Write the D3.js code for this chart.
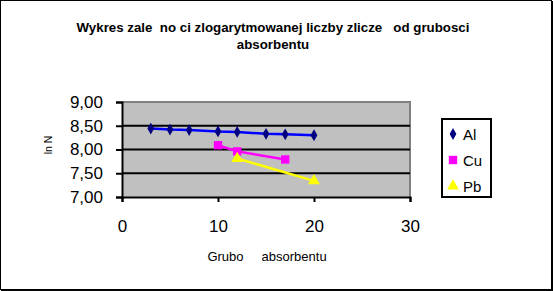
<!DOCTYPE html>
<html>
<head>
<meta charset="utf-8">
<script src="https://cdn.jsdelivr.net/npm/d3@7"></script>
<style>
body { margin: 0; background: #fff; }
text { font-family: "Liberation Sans", Arial, sans-serif; white-space: pre; }
</style>
</head>
<body>
<svg id="chart" width="553" height="291"></svg>
<script>
var xTicks = [0, 10, 20, 30];
var yTicks = [7.0, 7.5, 8.0, 8.5, 9.0];

var alX = [3, 5, 7, 10, 12, 15, 17, 20];
var alY = [8.44, 8.42, 8.41, 8.38, 8.37, 8.33, 8.32, 8.30];
var cuX = [10, 12, 17];
var cuY = [8.09, 7.96, 7.79];
var pbX = [12, 20];
var pbY = [7.81, 7.34];

var seriesNames = ["Al", "Cu", "Pb"];

var svg = d3.select("#chart");

// outer frame with shadow on right/bottom
svg.append("rect").attr("x", 0.5).attr("y", 0.5).attr("width", 551).attr("height", 289)
    .attr("fill", "#fff").attr("stroke", "#000").attr("stroke-width", 1);
svg.append("line").attr("x1", 552).attr("x2", 552).attr("y1", 1).attr("y2", 291)
    .attr("stroke", "#000").attr("stroke-width", 2);
svg.append("line").attr("x1", 1).attr("x2", 553).attr("y1", 290).attr("y2", 290)
    .attr("stroke", "#000").attr("stroke-width", 2);

var margin = { left: 122, top: 102, right: 410, bottom: 197 };

var x = d3.scaleLinear().domain([0, 30]).range([margin.left, margin.right]);
var y = d3.scaleLinear().domain([7, 9]).range([margin.bottom, margin.top]);

// title
svg.append("text").attr("x", 273).attr("y", 32).attr("text-anchor", "middle")
    .attr("font-size", 13.3).attr("font-weight", "bold")
    .text("Wykres zale  no ci zlogarytmowanej liczby zlicze   od grubosci");
svg.append("text").attr("x", 273).attr("y", 49).attr("text-anchor", "middle")
    .attr("font-size", 13.3).attr("font-weight", "bold")
    .text("absorbentu");

// plot area
svg.append("rect")
    .attr("x", x(0)).attr("y", y(9))
    .attr("width", x(30) - x(0)).attr("height", y(7) - y(9))
    .attr("fill", "#c0c0c0");

svg.append("path")
    .attr("d", "M" + x(0) + "," + y(9) + "H" + x(30) + "V" + y(7))
    .attr("fill", "none").attr("stroke", "#808080").attr("stroke-width", 2);

svg.selectAll(".grid")
    .data(yTicks.filter(function(d) { return d > 7 && d < 9; }))
    .enter().append("line")
    .attr("class", "grid")
    .attr("x1", x(0)).attr("x2", x(30))
    .attr("y1", function(d) { return y(d); })
    .attr("y2", function(d) { return y(d); })
    .attr("stroke", "#000").attr("stroke-width", 2);

// axes
var xAxis = svg.append("g")
    .attr("transform", "translate(0," + y(7) + ")")
    .call(d3.axisBottom(x).tickValues(xTicks).tickSize(5).tickPadding(18)
        .tickFormat(d3.format("d")));
xAxis.select(".domain").attr("stroke-width", 2);
xAxis.selectAll(".tick line").attr("stroke-width", 2);
xAxis.selectAll("text").attr("font-size", 17).attr("font-family", "Liberation Sans, Arial, sans-serif");

var yAxis = svg.append("g")
    .attr("transform", "translate(" + x(0) + ",0)")
    .call(d3.axisLeft(y).tickValues(yTicks).tickSize(6).tickPadding(13)
        .tickFormat(function(d) { return d3.format(".2f")(d).replace(".", ","); }));
yAxis.select(".domain").attr("stroke-width", 2);
yAxis.selectAll(".tick line").attr("stroke-width", 2);
yAxis.selectAll("text").attr("font-size", 17).attr("font-family", "Liberation Sans, Arial, sans-serif");

svg.append("text").attr("x", 267).attr("y", 261).attr("text-anchor", "middle")
    .attr("font-size", 13)
    .text("Grubo     absorbentu");

svg.append("text")
    .attr("transform", "translate(52,145) rotate(-90)")
    .attr("text-anchor", "middle").attr("font-size", 10.5)
    .text("ln N");

// series
var series = [
    { name: seriesNames[0], xs: alX, ys: alY, line: "#0000ff", marker: "#000080", shape: d3.symbolDiamond, size: 40 },
    { name: seriesNames[1], xs: cuX, ys: cuY, line: "#ff00ff", marker: "#ff00ff", shape: d3.symbolSquare, size: 70 },
    { name: seriesNames[2], xs: pbX, ys: pbY, line: "#ffff00", marker: "#ffff00", shape: d3.symbolTriangle, size: 60 }
];

var line = d3.line()
    .x(function(d) { return x(d[0]); })
    .y(function(d) { return y(d[1]); });

series.forEach(function(s) {
    var pts = s.xs.map(function(v, i) { return [v, s.ys[i]]; });
    svg.append("path").datum(pts)
        .attr("d", line)
        .attr("fill", "none").attr("stroke", s.line).attr("stroke-width", 2.5);
    svg.selectAll(null).data(pts).enter().append("path")
        .attr("d", d3.symbol().type(s.shape).size(s.size))
        .attr("transform", function(d) { return "translate(" + x(d[0]) + "," + y(d[1]) + ")"; })
        .attr("fill", s.marker);
});

// legend
svg.append("rect").attr("x", 442).attr("y", 119).attr("width", 49).attr("height", 78)
    .attr("fill", "#fff").attr("stroke", "#000").attr("stroke-width", 2);

var leg = svg.selectAll(".leg").data(series).enter().append("g")
    .attr("class", "leg")
    .attr("transform", function(d, i) { return "translate(453," + (134 + i * 26) + ")"; });
leg.append("path")
    .attr("d", function(d) { return d3.symbol().type(d.shape).size(d.size)(); })
    .attr("fill", function(d) { return d.marker; });
leg.append("text").attr("x", 10).attr("y", 6)
    .attr("font-size", 15)
    .text(function(d) { return d.name; });
</script>
</body>
</html>
